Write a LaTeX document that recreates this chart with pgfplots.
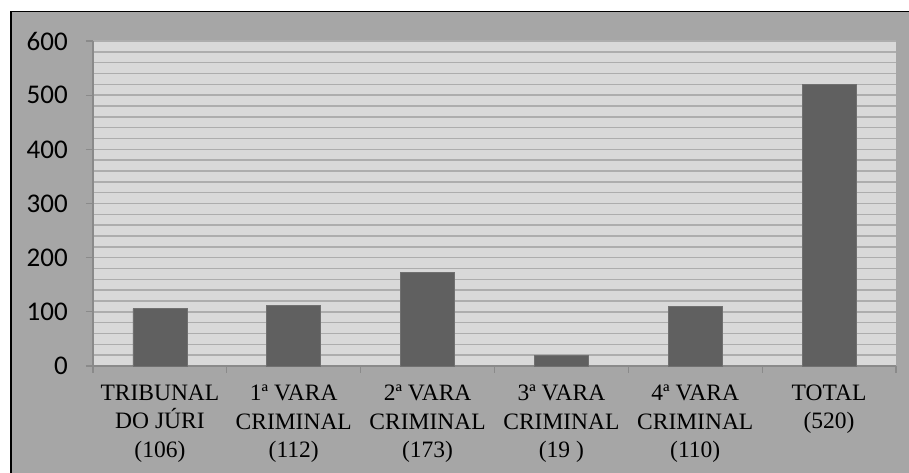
\documentclass[border=0pt]{standalone}
\usepackage{fontspec}
\setmainfont{Liberation Serif}
\newfontfamily\carlito{Carlito}
\usepackage{pgfplots}
\pgfplotsset{compat=1.18}
\definecolor{outerbg}{HTML}{A6A6A6}
\definecolor{plotbg}{HTML}{D9D9D9}
\definecolor{gridc}{HTML}{ADADAD}
\definecolor{axisc}{HTML}{8A8A8A}
\definecolor{barc}{HTML}{606060}
\definecolor{baredge}{HTML}{707070}
\begin{document}
\begin{tikzpicture}
\path[use as bounding box] (-93pt,-107pt) rectangle (816pt,366pt);
\fill[white] (-93pt,-107pt) rectangle (816pt,366pt);
\fill[outerbg] (-82pt,-107pt) rectangle (816pt,354.5pt);
\draw[black, line width=1.6pt] (-82pt,-107pt) -- (-82pt,354.5pt) -- (816pt,354.5pt);
\begin{axis}[
  at={(0pt,0pt)}, anchor=south west,
  scale only axis, width=803pt, height=325pt,
  xmin=-0.5, xmax=5.5, ymin=0, ymax=600,
  axis x line=bottom, axis y line=left,
  axis line style={draw=axisc, line width=1.3pt, -},
  axis background/.style={fill=plotbg},
  xtick={-0.5,0.5,...,5.5},
  x tick label as interval,
  xticklabels={{TRIBUNAL\\DO JÚRI\\(106)},{1ª VARA\\CRIMINAL\\(112)},{2ª VARA\\CRIMINAL\\(173)},{3ª VARA\\CRIMINAL\\(19 )},{4ª VARA\\CRIMINAL\\(110)},{TOTAL\\(520)}},
  ytick={0,100,...,600},
  minor y tick num=4,
  ymajorgrids, yminorgrids,
  major grid style={draw=gridc, line width=1.5pt},
  minor grid style={draw=gridc, line width=1.5pt},
  tick align=outside,
  major tick length=7pt, minor tick length=0pt,
  tick style={draw=axisc, line width=1.3pt},
  xticklabel style={font=\fontsize{23.5}{28.2}\selectfont, align=center, anchor=north, inner sep=0pt, yshift=-12pt},
  yticklabels={0,100,200,300,400,500,600},
  yticklabel style={font=\carlito\fontsize{27}{31}\selectfont, anchor=east, inner sep=0pt, xshift=-18pt},
  ybar, bar width=54pt,
  clip=false,
]
\addplot[fill=barc, draw=baredge, line width=0.8pt] coordinates {(0,106) (1,112) (2,173) (3,19) (4,110) (5,520)};
\end{axis}
\end{tikzpicture}
\end{document}
